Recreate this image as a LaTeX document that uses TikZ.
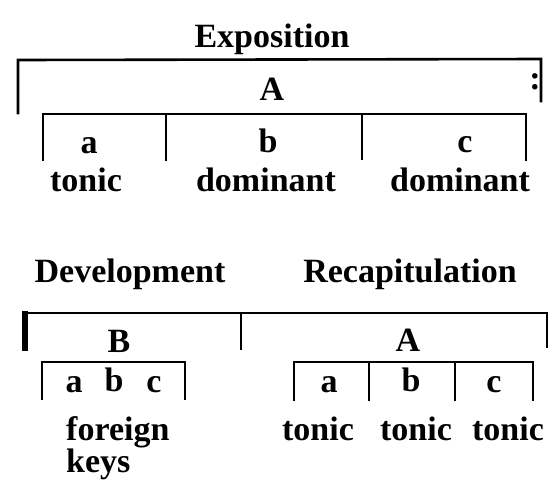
\documentclass[tikz,border=0pt]{standalone}
\usepackage{fontspec}
\setmainfont{Liberation Serif}
\begin{document}
\begin{tikzpicture}[x=1pt,y=-1pt,
  txt/.style={font=\bfseries\fontsize{34}{36}\selectfont, inner sep=0pt, anchor=base},
  br/.style={line width=2.6pt, line cap=rect, line join=miter}]
\useasboundingbox (0,0) rectangle (553,480);
% ---- Exposition ----
\node[txt] (expo) at (272,47) {Exposition};
\draw[br] (18,113) -- (18,60) -- (541,59) -- (541,101);
\node[txt] (colon) at (535,89) {:};
\node[txt] (A1) at (272,100) {A};
\draw[br] (43,160) -- (43,114) -- (526,114) -- (526,160);
\draw[br] (166,114) -- (166,160);
\draw[br] (362,114) -- (362,159);
\node[txt] (a1) at (89,153) {a};
\node[txt] (b1) at (268,152) {b};
\node[txt] (c1) at (465,152) {c};
\node[txt] (t1) at (86,191) {tonic};
\node[txt] (d1) at (266,191) {dominant};
\node[txt] (d2) at (460,191) {dominant};
% ---- Development / Recapitulation ----
\node[txt] (dev) at (130,282) {Development};
\node[txt] (rec) at (410,282) {Recapitulation};
\draw[br] (241,313) -- (241,349);
\draw[br] (547,347) -- (547,313) -- (25,313);
\draw[line width=6pt] (25,311) -- (25,351);
\node[txt] (B) at (119,352) {B};
\node[txt] (A2) at (408,351) {A};
\draw[br] (42,399) -- (42,362) -- (185,362) -- (185,399);
\node[txt] (a2) at (74,392) {a};
\node[txt] (b2) at (114,391) {b};
\node[txt] (c2) at (154,392) {c};
\draw[br] (294,400) -- (294,362) -- (533,362) -- (533,400);
\draw[br] (369,362) -- (369,400);
\draw[br] (455,362) -- (455,400);
\node[txt] (a3) at (329,392) {a};
\node[txt] (b3) at (411,391) {b};
\node[txt] (c3) at (494,392) {c};
\node[txt, anchor=base west] (f) at (66,440) {foreign};
\node[txt, anchor=base west] (k) at (66,472) {keys};
\node[txt] (t2) at (318,440) {tonic};
\node[txt] (t3) at (416,440) {tonic};
\node[txt] (t4) at (508,440) {tonic};
\end{tikzpicture}
\end{document}
